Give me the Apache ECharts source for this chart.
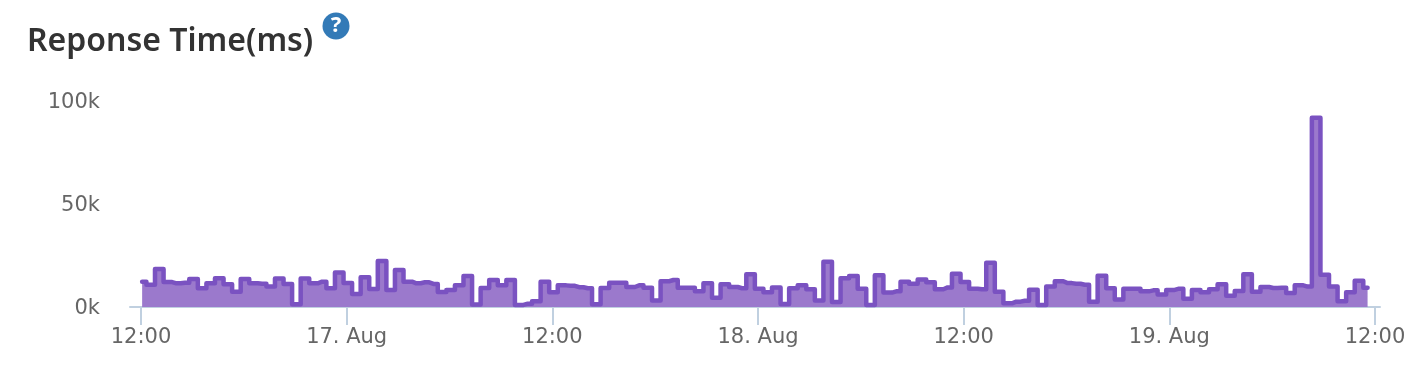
<!DOCTYPE html>
<html><head><meta charset="utf-8">
<style>html,body{margin:0;padding:0;background:#fff}#c{width:1412px;height:372px}</style>
<script src="https://cdn.jsdelivr.net/npm/echarts@6/dist/echarts.min.js"></script>
</head><body><div id="c"></div>
<script>
const titleText = "Reponse Time(ms)";
const yTicks = [0, 50000, 100000];
const tickTimes = [
  Date.UTC(2016,7,16,12), Date.UTC(2016,7,17,0), Date.UTC(2016,7,17,12),
  Date.UTC(2016,7,18,0), Date.UTC(2016,7,18,12), Date.UTC(2016,7,19,0), Date.UTC(2016,7,19,12)
];
const firstPoint = Date.UTC(2016,7,16,12,4);
const stepMs = 30*60*1000;
const axisStart = Date.UTC(2016,7,16,11,21,30);
const axisEnd = Date.UTC(2016,7,19,12,17,30);
// thousands of ms, one reading every 30 minutes
const responseK = [
 12.3,10.8,18.4,12.1,11.5,11.8,13.6,9.1,11.5,13.9,11,7.4,13.6,11.5,11.3,9.9,13.8,11.2,1.3,13.8,11.5,12.3,9.1,16.7,
 11.6,6.3,14.4,8.7,22.3,8.3,18,12.3,11.5,12,11.2,7.3,8.3,10.5,15,1.2,9.2,13.1,10.5,13.1,1,1.6,2.8,12.3,
 7.1,10.5,10.3,9.6,9.1,1.3,9.2,11.8,11.8,9.7,10.5,9.4,3.1,12.5,13.1,9.4,9.4,7.6,11.5,4.5,11,9.7,9.1,15.9,
 8.9,7.1,9.5,1.5,9.1,10.5,8.6,3.2,22,2.4,13.9,15,8.9,1,15.4,7,7.6,12.3,11.3,13.4,12,8.6,9.5,16.2,
 12.1,8.9,8.6,21.5,7.4,1.8,2.6,3,8.4,1,10,12.5,11.6,11.3,10.8,2.6,15.2,9.1,3.7,8.9,8.9,7.6,8.1,6.1,
 8.3,8.9,4,8.3,7.1,8.6,11,5.5,7.8,15.9,7.4,9.7,9.2,9.4,6.8,10.5,9.9,91.9,15.7,9.9,2.8,7.1,12.8,9.4
];
const points = responseK.map((v,i)=>[firstPoint+i*stepMs, v*1000]);
const font = '"DejaVu Sans", sans-serif';
const chart = echarts.init(document.getElementById('c'),null,{renderer:'canvas'});
chart.setOption({
  animation:false, backgroundColor:'#fff',
  title:{text:titleText,left:22,top:21,textStyle:{fontFamily:'"Noto Sans",sans-serif',fontSize:32,fontWeight:600,color:'#333'}},
  graphic:[
    {type:'circle',shape:{cx:336,cy:26,r:13.5},style:{fill:'#337ab7'}},
    {type:'text',x:336,y:26,style:{text:'?',fill:'#fff',font:'bold 22px "Noto Sans",sans-serif',align:'center',verticalAlign:'middle'}}
  ],
  grid:{left:130,right:32,top:101,height:206,containLabel:false},
  xAxis:{type:'value',min:axisStart,max:axisEnd,
    axisLine:{show:true,lineStyle:{color:'#c0d0e0',width:2}},
    axisTick:{show:true,customValues:tickTimes,length:18,lineStyle:{color:'#c0d0e0',width:2}},
    axisLabel:{show:true,customValues:tickTimes,margin:20,fontFamily:font,fontSize:21,color:'#666',hideOverlap:false,
      formatter:v=>{const d=new Date(v);return d.getUTCHours()===0?d.getUTCDate()+'. Aug':'12:00';}},
    splitLine:{show:false}},
  yAxis:{type:'value',min:yTicks[0],max:yTicks[2],interval:yTicks[1],
    axisLine:{show:false},axisTick:{show:false},splitLine:{show:false},
    axisLabel:{margin:30,fontFamily:font,fontSize:21,color:'#666',verticalAlign:'top',lineHeight:4,
      formatter:v=>(v/1000)+'k'}},
  series:[{type:'line',step:'middle',data:points,symbol:'none',clip:false,
    lineStyle:{color:'#7a52c1',width:4.5,cap:'round',join:'round'},
    areaStyle:{color:'#9b79cc',opacity:1}}]
});
</script></body></html>
